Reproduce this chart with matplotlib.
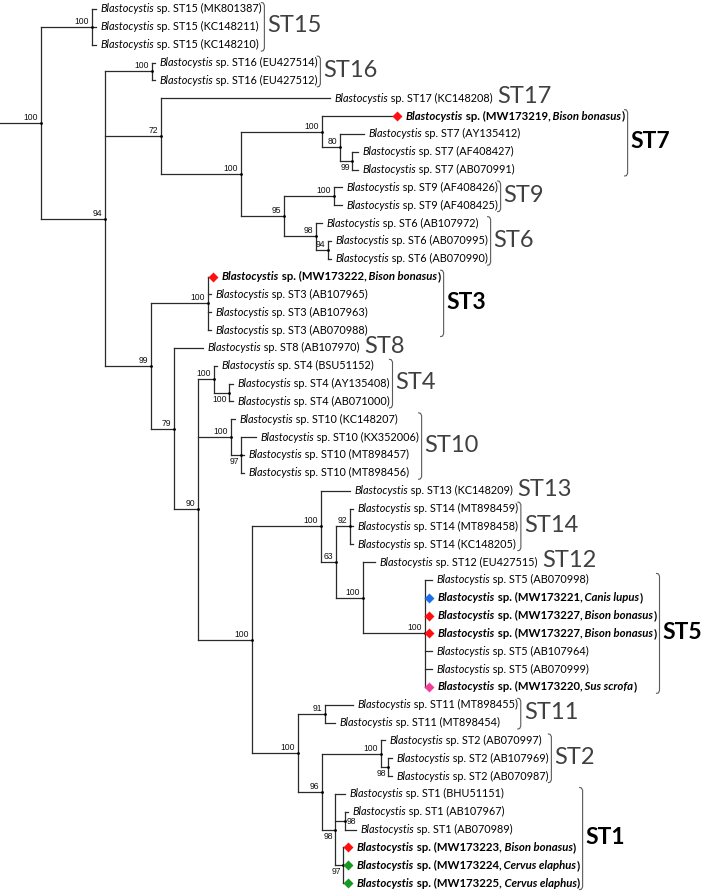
import matplotlib
matplotlib.use("Agg")
import matplotlib.pyplot as plt
from matplotlib.collections import LineCollection

# leaves, top to bottom
leaf_st = ["ST15", "ST15", "ST15", "ST16", "ST16", "ST17", "", "ST7", "ST7", "ST7",
           "ST9", "ST9", "ST6", "ST6", "ST6", "", "ST3", "ST3", "ST3", "ST8",
           "ST4", "ST4", "ST4", "ST10", "ST10", "ST10", "ST10", "ST13", "ST14", "ST14",
           "ST14", "ST12", "ST5", "", "", "", "ST5", "ST5", "", "ST11",
           "ST11", "ST2", "ST2", "ST2", "ST1", "ST1", "ST1", "", "", ""]
leaf_acc = ["MK801387", "KC148211", "KC148210", "EU427514", "EU427512", "KC148208",
            "MW173219", "AY135412", "AF408427", "AB070991", "AF408426", "AF408425",
            "AB107972", "AB070995", "AB070990", "MW173222", "AB107965", "AB107963",
            "AB070988", "AB107970", "BSU51152", "AY135408", "AB071000", "KC148207",
            "KX352006", "MT898457", "MT898456", "KC148209", "MT898459", "MT898458",
            "KC148205", "EU427515", "AB070998", "MW173221", "MW173227", "MW173227",
            "AB107964", "AB070999", "MW173220", "MT898455", "MT898454", "AB070997",
            "AB107969", "AB070987", "BHU51151", "AB107967", "AB070989", "MW173223",
            "MW173224", "MW173225"]
leaf_host = ["", "", "", "", "", "", "Bison bonasus", "", "", "",
             "", "", "", "", "", "Bison bonasus", "", "", "", "",
             "", "", "", "", "", "", "", "", "", "",
             "", "", "", "Canis lupus", "Bison bonasus", "Bison bonasus", "", "", "Sus scrofa", "",
             "", "", "", "", "", "", "", "Bison bonasus", "Cervus elaphus", "Cervus elaphus"]
# depth of each leaf tip (cumulative branch length, drawing units)
leaf_tip = [96, 96, 96, 155, 155, 330, 397, 364, 358, 358,
            342, 342, 322, 331, 331, 213, 211, 211, 211, 203,
            217, 233, 233, 235, 256, 244, 244, 350, 353, 353,
            353, 375, 432, 429, 429, 429, 432, 432, 429, 353,
            335, 385, 392, 392, 345, 348, 356, 348, 348, 348]

# internal nodes: name, depth, children (leaf index or node name), bootstrap, label side
node_name = ["root", "n15", "n94", "n16", "n72", "nA", "n7", "n80", "n7b", "n95",
             "n9", "n6", "n6b", "n99", "n3", "n79", "n90", "n4", "n4b", "n10",
             "n10b", "nC", "nD", "n63", "n14", "nF", "n5", "nE", "n11", "n96",
             "n2", "n2b", "n1", "n1b", "n1c"]
node_x = [41, 92, 105, 152, 161, 241, 322, 340, 352, 284,
          334, 316, 328, 151, 208, 174, 198, 214, 229, 231,
          241, 252, 321, 336, 350, 363, 425, 298, 325, 322,
          381, 388, 335, 345, 343]
node_children = [["n15", "n94"], [0, 1, 2], ["n16", "n72", "n99"], [3, 4], [5, "nA"],
                 ["n7", "n95"], [6, "n80"], [7, "n7b"], [8, 9], ["n9", "n6"],
                 [10, 11], [12, "n6b"], [13, 14], ["n3", "n79"], [15, 16, 17, 18],
                 [19, "n90"], ["n4", "n10", "nC"], [20, "n4b"], [21, 22], [23, "n10b"],
                 [24, 25, 26], ["nD", "nE"], [27, "n63"], ["n14", "nF"], [28, 29, 30],
                 [31, "n5"], [32, 33, 34, 35, 36, 37, 38], ["n11", "n96"], [39, 40], ["n2", "n1"],
                 [41, "n2b"], [42, 43], [44, "n1b", "n1c"], [45, 46], [47, 48, 49]]
node_support = [100, 100, 94, 100, 72, 100, 100, 80, 99, 95,
                100, 98, 94, 99, 100, 79, 90, 100, 100, 100,
                97, 100, 100, 63, 92, 100, 100, 100, 91, 96,
                100, 98, 98, 98, 97]
node_side = ["up", "up", "up", "up", "up", "up", "up", "up", "down", "up",
             "up", "up", "up", "up", "up", "up", "up", "up", "down", "up",
             "down", "up", "up", "up", "up", "up", "up", "up", "up", "up",
             "up", "down", "down", "right", "down"]

# clades: label, first leaf, last leaf, bold
clade_label = ["ST15", "ST16", "ST17", "ST7", "ST9", "ST6", "ST3", "ST8", "ST4",
               "ST10", "ST13", "ST14", "ST12", "ST5", "ST11", "ST2", "ST1"]
clade_first = [0, 3, 5, 6, 10, 12, 15, 19, 20, 23, 27, 28, 31, 32, 39, 41, 44]
clade_last = [2, 4, 5, 9, 11, 14, 18, 19, 22, 26, 27, 30, 31, 38, 40, 43, 49]
clade_bold = [False, False, False, True, False, False, True, False, False,
              False, False, False, False, True, False, False, True]

host_color = {"Bison bonasus": "#ff1010", "Canis lupus": "#1f6fe8",
              "Sus scrofa": "#f0409c", "Cervus elaphus": "#179a22"}

W, H = 703, 894
top_px, step_px = 9, 17.84

fig = plt.figure(figsize=(W / 100, H / 100), dpi=100)
ax = fig.add_axes([0, 0, 1, 1])
ax.set_xlim(0, W)
ax.set_ylim((H - top_px) / step_px, -top_px / step_px)
ax.axis("off")

idx = {n: i for i, n in enumerate(node_name)}


def cx(c):
    return leaf_tip[c] if isinstance(c, int) else node_x[idx[c]]


def cy(c):
    if isinstance(c, int):
        return c
    ch = node_children[idx[c]]
    return (cy(ch[0]) + cy(ch[-1])) / 2


lc = "#2a2a2a"
segs = []
for i, n in enumerate(node_name):
    x = node_x[i]
    ch = node_children[i]
    segs.append([(x, cy(ch[0])), (x, cy(ch[-1]))])
    for c in ch:
        segs.append([(x, cy(c)), (cx(c), cy(c))])
segs.append([(0, cy("root")), (node_x[0], cy("root"))])
ax.add_collection(LineCollection(segs, colors=lc, linewidths=0.9, capstyle="projecting"))

ax.scatter(node_x, [cy(n) for n in node_name], s=4, color="black", zorder=3, lw=0)

bfont = dict(family="Liberation Sans", fontsize=6.2, color="#111111")
for i, n in enumerate(node_name):
    pos = (node_x[i], cy(n))
    if node_side[i] == "up":
        ax.annotate(str(node_support[i]), pos, xytext=(-3, 1), textcoords="offset pixels",
                    ha="right", va="bottom", **bfont)
    elif node_side[i] == "down":
        ax.annotate(str(node_support[i]), pos, xytext=(-2, -2), textcoords="offset pixels",
                    ha="right", va="top", **bfont)
    else:
        ax.annotate(str(node_support[i]), pos, xytext=(2, -1), textcoords="offset pixels",
                    ha="left", va="center", **bfont)

# diamonds for new isolates
for i, h in enumerate(leaf_host):
    if h:
        ax.scatter(leaf_tip[i], i, marker="D", s=26, color=host_color[h], lw=0, zorder=4)

leaf_text = []
for i in range(len(leaf_acc)):
    if leaf_host[i]:
        x = leaf_tip[i] + 8.5
        fs = 8.2
        pieces = [("Blastocystis", "italic", "bold"), (" sp. (%s," % leaf_acc[i], "normal", "bold"),
                  (" " + leaf_host[i], "italic", "bold"), (")", "normal", "bold")]
    else:
        x = leaf_tip[i] + 4
        fs = 7.85
        pieces = [("Blastocystis", "italic", "normal"),
                  (" sp. %s (%s)" % (leaf_st[i], leaf_acc[i]), "normal", "normal")]
    t = ax.text(x, i, pieces[0][0], style=pieces[0][1], weight=pieces[0][2],
                ha="left", va="center", family="Lato", fontsize=fs, color="black")
    for s, sty, wt in pieces[1:]:
        t = ax.annotate(s, xy=(1, 0), xycoords=t, ha="left", va="bottom",
                        style=sty, weight=wt, family="Lato", fontsize=fs, color="black")
    leaf_text.append(t)

fig.canvas.draw()
r = fig.canvas.get_renderer()
right = [t.get_window_extent(r).x1 for t in leaf_text]

bc = "#5a5a5a"
for k, lab in enumerate(clade_label):
    a, b = clade_first[k], clade_last[k]
    if clade_bold[k]:
        style = dict(weight="bold", fontsize=16.5, color="black")
    else:
        style = dict(weight="normal", fontsize=17, color="#404040")
    if a == b:
        ax.text(right[a] + 5, a - 0.08, lab, ha="left", va="center", family="Lato", **style)
        continue
    bx = max(right[a:b + 1]) + 3
    y0, y1 = a - 0.36, b + 0.36
    ax.plot([bx - 3, bx - 1.2, bx, bx, bx - 1.2, bx - 3],
            [y0, y0 + 0.02, y0 + 0.15, y1 - 0.15, y1 - 0.02, y1],
            color=bc, lw=0.8, solid_joinstyle="round")
    ax.text(bx + 3, (a + b) / 2 - 0.05, lab, ha="left", va="center", family="Lato", **style)

fig.savefig("out.png", dpi=100)
